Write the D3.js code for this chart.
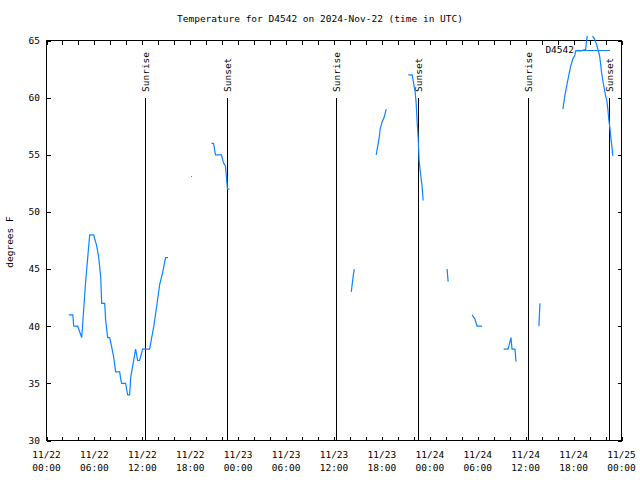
<!DOCTYPE html>
<html>
<head>
<meta charset="utf-8">
<script src="https://cdn.jsdelivr.net/npm/d3@7"></script>
<style>
  html, body { margin: 0; padding: 0; background: #fff; }
  svg text { font-family: "DejaVu Sans Mono", "Liberation Mono", monospace; font-size: 9.5px; fill: #000; }
</style>
</head>
<body>
<svg id="chart" width="640" height="480"></svg>
<script>
// ---- data (hours since 2024-11-22 00:00 UTC, temperature in degrees F) ----
const title = "Temperature for D4542 on 2024-Nov-22 (time in UTC)";
const seriesName = "D4542";
const yLabel = "degrees F";
const yTicks = [30, 35, 40, 45, 50, 55, 60, 65];
const xLabelHours = [0, 6, 12, 18, 24, 30, 36, 42, 48, 54, 60, 66, 72];
const xMinorHours = d3.range(0, 73, 2);

const sunriseHours = [12.28, 36.29, 60.29];
const sunsetHours = [22.55, 46.54, 70.42];

const seg1Hours = [2.79, 3.29, 3.41, 3.91, 4.41, 4.91, 5.41, 5.91, 6.29, 6.54, 6.79, 6.91, 7.29, 7.41, 7.66, 7.91, 8.16, 8.41, 8.66, 9.16, 9.29, 9.41, 9.91, 10.16, 10.41, 10.54, 11.16, 11.41, 11.66, 12.04, 12.91, 13.41, 13.79, 14.16, 14.54, 14.91, 15.21];
const seg1Temps = [41, 41, 40, 40, 39, 44, 48, 48, 47, 46, 44.3, 42, 42, 40.5, 39, 39, 38.2, 37.3, 36, 36, 35.4, 35, 35, 34, 34, 35.5, 38, 37, 37, 38, 38, 39.9, 41.7, 43.6, 44.7, 46, 46];

const seg2Hours = [18.1, 18.22];
const seg2Temps = [53.1, 53.1];

const seg3Hours = [20.66, 20.91, 21.16, 21.91, 22.16, 22.41, 22.54, 22.66, 22.91];
const seg3Temps = [56, 56, 55, 55, 54.3, 54, 53, 52, 52];

const seg4Hours = [38.16, 38.41, 38.54];
const seg4Temps = [43, 44.4, 45];

const seg5Hours = [41.29, 41.41, 41.66, 41.79, 42.04, 42.29, 42.54];
const seg5Temps = [55, 55.5, 56.5, 57.3, 57.9, 58.3, 59];

const seg6Hours = [45.29, 45.79, 45.91, 46.16, 46.29, 46.41, 46.54, 46.66, 46.79, 46.91, 47.04, 47.16];
const seg6Temps = [62, 62, 61.5, 60.5, 59.5, 57.9, 56.5, 54.5, 53.6, 52.9, 52.2, 51];

const seg7Hours = [50.16, 50.29];
const seg7Temps = [45, 43.9];

const seg8Hours = [53.29, 53.66, 53.91, 54.54];
const seg8Temps = [41, 40.6, 40, 40];

const seg9Hours = [57.25, 57.79, 57.91, 58.16, 58.29, 58.66, 58.79];
const seg9Temps = [38, 38, 38.3, 39, 38, 38, 36.9];

const seg10Hours = [61.66, 61.72, 61.79];
const seg10Temps = [40, 41, 42];

const seg11Hours = [64.66, 64.91, 65.16, 65.41, 65.66, 65.91, 66.16, 66.25, 66.88, 67.5, 67.71];
const seg11Temps = [59, 60.2, 61.1, 62, 62.8, 63.4, 63.7, 64.1, 64.1, 64.2, 65.4];

const seg12Hours = [68.38, 68.63, 68.91, 69.09, 69.25, 69.38, 69.5, 69.66, 69.84, 70.0, 70.16, 70.29, 70.41, 70.54, 70.66, 70.79, 70.91];
const seg12Temps = [65.4, 65.1, 64.6, 64.1, 63.7, 63.0, 62.2, 61.5, 60.8, 60.2, 59.75, 59.0, 58.1, 57.4, 56.5, 55.8, 54.9];

const segments = [
  [seg1Hours, seg1Temps], [seg2Hours, seg2Temps], [seg3Hours, seg3Temps],
  [seg4Hours, seg4Temps], [seg5Hours, seg5Temps], [seg6Hours, seg6Temps],
  [seg7Hours, seg7Temps], [seg8Hours, seg8Temps], [seg9Hours, seg9Temps],
  [seg10Hours, seg10Temps], [seg11Hours, seg11Temps], [seg12Hours, seg12Temps]
];

// ---- drawing ----
const start = Date.UTC(2024, 10, 22, 0, 0);
const toDate = h => new Date(start + h * 3600e3);

const L = 46.5, R = 621.5, T = 40.5, B = 440.5;
const x = d3.scaleUtc().domain([toDate(0), toDate(72)]).range([L, R]);
const y = d3.scaleLinear().domain([30, 65]).range([B, T]);

const svg = d3.select("#chart");
const lineColor = "#0a84ff";

// title
svg.append("text").attr("x", 320).attr("y", 22).attr("text-anchor", "middle").text(title);

// axes with inward ticks
const fmtDate = d3.utcFormat("%m/%d");
const fmtTime = d3.utcFormat("%H:%M");
const xBottom = d3.axisBottom(x).tickValues(xMinorHours.map(toDate)).tickSize(-4).tickFormat("");
const xTop = d3.axisTop(x).tickValues(xMinorHours.map(toDate)).tickSize(-4).tickFormat("");
const yLeft = d3.axisLeft(y).tickValues(yTicks).tickSize(-4).tickFormat("");
const yRight = d3.axisRight(y).tickValues(yTicks).tickSize(-4).tickFormat("");

function styleAxis(g) {
  g.select(".domain").remove();
  g.selectAll(".tick line").attr("stroke", "#000").attr("shape-rendering", "crispEdges");
}
svg.append("g").attr("transform", `translate(0,${B})`).call(xBottom).call(styleAxis);
svg.append("g").attr("transform", `translate(0,${T})`).call(xTop).call(styleAxis);
svg.append("g").attr("transform", `translate(${L},0)`).call(yLeft).call(styleAxis);
svg.append("g").attr("transform", `translate(${R},0)`).call(yRight).call(styleAxis);

// frame
svg.append("rect").attr("x", L).attr("y", T).attr("width", R - L).attr("height", B - T)
  .attr("fill", "none").attr("stroke", "#000").attr("shape-rendering", "crispEdges");

// x labels (two lines)
const xl = svg.append("g").selectAll("text").data(xLabelHours.map(toDate)).join("text")
  .attr("text-anchor", "middle")
  .attr("transform", d => `translate(${x(d)},0)`);
xl.append("tspan").attr("x", 0).attr("y", 458).text(d => fmtDate(d));
xl.append("tspan").attr("x", 0).attr("y", 471).text(d => fmtTime(d));

// y labels
svg.append("g").selectAll("text").data(yTicks).join("text")
  .attr("x", 40).attr("y", d => y(d)).attr("dy", "0.35em").attr("text-anchor", "end").text(d => d);

// y axis title
svg.append("text").attr("transform", `translate(13,242) rotate(-90)`).attr("text-anchor", "middle").text(yLabel);

// sunrise / sunset markers
const marks = sunriseHours.map(h => ({h, label: "Sunrise"})).concat(sunsetHours.map(h => ({h, label: "Sunset"})));
const mg = svg.append("g");
mg.selectAll("line").data(marks).join("line")
  .attr("x1", d => Math.round(x(toDate(d.h))) + 0.5).attr("x2", d => Math.round(x(toDate(d.h))) + 0.5)
  .attr("y1", 98).attr("y2", B).attr("stroke", "#000").attr("shape-rendering", "crispEdges");
mg.selectAll("text").data(marks).join("text")
  .attr("transform", d => `translate(${Math.round(x(toDate(d.h))) + 0.5 + 3.5},92) rotate(-90)`)
  .attr("text-anchor", "start").text(d => d.label);

// data lines
const line = d3.line().x(d => x(toDate(d[0]))).y(d => y(d[1]));
const lg = svg.append("g");
segments.forEach(([hs, ts]) => {
  lg.append("path").datum(hs.map((h, i) => [h, ts[i]]))
    .attr("d", line).attr("fill", "none").attr("stroke", lineColor).attr("stroke-width", 1.2);
});

// legend
svg.append("text").attr("x", 574).attr("y", 50).attr("dy", "0.35em").attr("text-anchor", "end").text(seriesName);
svg.append("line").attr("x1", 576).attr("x2", 610).attr("y1", 50.5).attr("y2", 50.5)
  .attr("stroke", lineColor).attr("stroke-width", 1.2);
</script>
</body>
</html>
